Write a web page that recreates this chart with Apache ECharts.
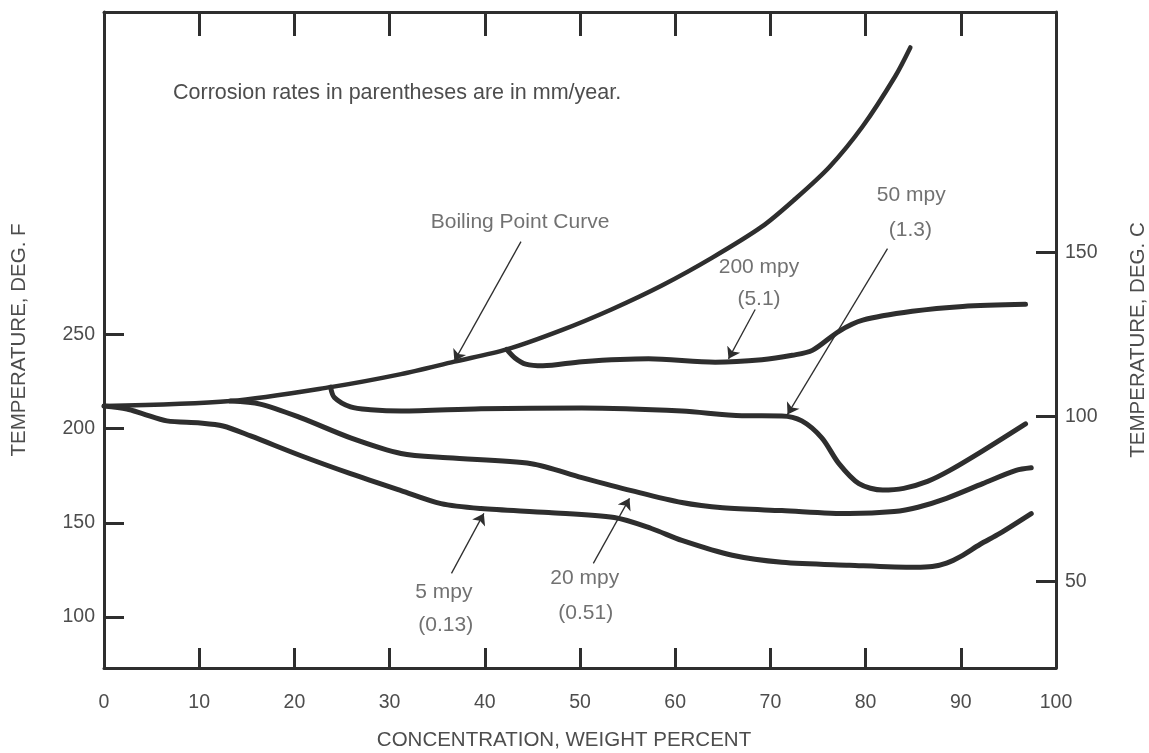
<!DOCTYPE html>
<html>
<head>
<meta charset="utf-8">
<script src="https://cdn.jsdelivr.net/npm/echarts@6/dist/echarts.min.js"></script>
<style>
html,body{margin:0;padding:0;background:#fff;}
#chart{width:1149px;height:753px;}
</style>
</head>
<body>
<div id="chart"></div>
<script>
// ---- data (concentration wt% , temperature deg F) ----
const boilingX = [0, 13.3, 23.8, 31.2, 36.8, 42.3, 48.0, 53.3, 58.6, 63.9, 69.1, 72.6, 76.2, 79.7, 83.1, 84.7];
const boilingF = [212.0, 214.6, 222.0, 228.9, 235.5, 242.0, 252.1, 263.2, 275.9, 290.7, 307.1, 321.8, 338.8, 360.4, 386.8, 402.2];

const mpy200X = [42.3, 43.2, 44.3, 46.1, 50.2, 57.2, 64.2, 69.1, 72.3, 74.4, 77.2, 79.7, 84.9, 90.2, 96.8];
const mpy200F = [242.0, 237.3, 234.2, 233.3, 235.5, 237.0, 235.2, 236.5, 238.9, 241.5, 251.6, 257.5, 262.2, 264.8, 265.9];

const mpy50X = [23.8, 24.2, 25.9, 28.0, 31.2, 39.6, 50.2, 60.7, 67.0, 71.2, 73.3, 75.4, 77.2, 79.3, 81.8, 84.0, 86.5, 88.8, 92.3, 96.8];
const mpy50F = [222.0, 216.5, 211.5, 210.0, 209.3, 210.5, 210.9, 209.3, 206.8, 206.7, 204.1, 195.1, 181.4, 170.8, 167.4, 168.3, 172.0, 177.7, 188.2, 202.5];

const mpy20X = [13.3, 16.4, 20.7, 25.9, 31.2, 36.1, 44.9, 50.2, 55.4, 60.7, 65.0, 71.2, 78.3, 83.0, 85.5, 88.5, 92.3, 95.8, 97.4];
const mpy20F = [214.6, 213.0, 205.7, 195.1, 186.8, 184.5, 181.4, 174.0, 167.1, 160.8, 158.0, 156.5, 154.9, 156.0, 158.3, 163.0, 170.8, 177.8, 179.2];

const mpy5X = [0, 2.4, 4.1, 6.6, 10.1, 12.5, 15.4, 20.7, 25.9, 31.2, 35.4, 39.6, 46.7, 53.6, 57.5, 60.7, 66.0, 71.2, 78.3, 85.2, 87.0, 88.5, 90.0, 92.0, 94.1, 97.4];
const mpy5F = [212.0, 210.4, 207.8, 204.1, 203.0, 201.4, 196.1, 185.6, 176.1, 167.1, 160.2, 157.6, 155.5, 152.8, 147.0, 140.7, 132.8, 129.1, 127.5, 126.4, 126.8, 128.6, 132.2, 138.5, 144.4, 154.9];

// ---- tick labels ----
const xTicks = [0, 10, 20, 30, 40, 50, 60, 70, 80, 90, 100];
const xInnerTicks = [10, 20, 30, 40, 50, 60, 70, 80, 90];
const fTicks = [100, 150, 200, 250];
const cTicks = [50, 100, 150];

// ---- annotation texts and arrows (data coordinates) ----
const noteText = 'Corrosion rates in parentheses are in mm/year.';
const labelNames = ['Boiling Point Curve', '200 mpy', '(5.1)', '50 mpy', '(1.3)', '5 mpy', '(0.13)', '20 mpy', '(0.51)'];
const labelX = [43.7, 68.8, 68.8, 84.8, 84.7, 35.7, 35.9, 50.5, 50.6];
const labelF = [309.7, 285.4, 268.5, 324.0, 305.5, 113.2, 95.8, 120.6, 102.1];
const arrowFrom = [[43.8, 299.2], [68.4, 263.2], [82.3, 295.5], [36.5, 123.2], [51.4, 128.5]];
const arrowTo = [[36.8, 235.8], [65.6, 237.0], [71.8, 207.5], [39.9, 155.0], [55.2, 163.0]];

const pairs = (xs, ys) => xs.map((x, i) => [x, ys[i]]);

const textColor = '#4d4d4d';
const lineColor = '#2e2e2e';
const fontFamily = '"Liberation Sans", Arial, Helvetica, sans-serif';

const curve = (name, xs, ys, w) => ({
  name, type: 'line', xAxisIndex: 0, yAxisIndex: 0,
  data: pairs(xs, ys), smooth: 0.3, showSymbol: false, symbol: 'none',
  lineStyle: { color: lineColor, width: w, cap: 'round', join: 'round' },
  silent: true, z: 3
});

const chart = echarts.init(document.getElementById('chart'), null, { renderer: 'canvas' });
chart.setOption({
  animation: false,
  backgroundColor: '#ffffff',
  textStyle: { fontFamily },
  title: {
    text: noteText, left: 168, top: 77, padding: 5,
    textStyle: { fontSize: 21.5, fontWeight: 'normal', color: textColor, fontFamily }
  },
  grid: { left: 104, right: 93, top: 12, bottom: 85, containLabel: false, outerBoundsMode: 'none' },
  xAxis: [{
    type: 'value', position: 'bottom', min: 0, max: 100, interval: 10,
    name: 'CONCENTRATION, WEIGHT PERCENT', nameLocation: 'middle', nameGap: 62,
    nameTextStyle: { fontSize: 20.5, color: textColor, fontFamily, padding: [0, 32, 0, 0] },
    axisLine: { show: true, onZero: false, lineStyle: { color: lineColor, width: 3 } },
    axisTick: { show: true, inside: true, length: 20, customValues: xInnerTicks, lineStyle: { color: lineColor, width: 3 } },
    axisLabel: { show: true, margin: 25, fontSize: 19.5, color: textColor, fontFamily, customValues: xTicks },
    splitLine: { show: false }
  }, {
    type: 'value', position: 'top', min: 0, max: 100, interval: 10,
    axisLine: { show: true, onZero: false, lineStyle: { color: lineColor, width: 3 } },
    axisTick: { show: true, inside: true, length: 24, customValues: xInnerTicks, lineStyle: { color: lineColor, width: 3 } },
    axisLabel: { show: false },
    splitLine: { show: false }
  }],
  yAxis: [{
    type: 'value', position: 'left', min: 73, max: 421,
    name: 'TEMPERATURE, DEG. F', nameLocation: 'middle', nameGap: 74,
    nameTextStyle: { fontSize: 20.5, color: textColor, fontFamily },
    axisLine: { show: true, onZero: false, lineStyle: { color: lineColor, width: 3 } },
    axisTick: { show: true, inside: true, length: 20, customValues: fTicks, lineStyle: { color: lineColor, width: 3 } },
    axisLabel: { show: true, margin: 9, fontSize: 19.5, color: textColor, fontFamily, customValues: fTicks },
    splitLine: { show: false }
  }, {
    type: 'value', position: 'right', min: 23.6, max: 223,
    name: 'TEMPERATURE, DEG. C', nameLocation: 'middle', nameGap: 72,
    nameTextStyle: { fontSize: 20.5, color: textColor, fontFamily },
    axisLine: { show: true, onZero: false, lineStyle: { color: lineColor, width: 3 } },
    axisTick: { show: true, inside: true, length: 20, customValues: cTicks, lineStyle: { color: lineColor, width: 3 } },
    axisLabel: { show: true, margin: 9, fontSize: 19.5, color: textColor, fontFamily, customValues: cTicks },
    splitLine: { show: false }
  }],
  series: [
    curve('Boiling Point Curve', boilingX, boilingF, 4.5),
    curve('200 mpy', mpy200X, mpy200F, 5),
    curve('50 mpy', mpy50X, mpy50F, 5),
    curve('20 mpy', mpy20X, mpy20F, 5),
    curve('5 mpy', mpy5X, mpy5F, 5),
    {
      name: 'arrows', type: 'lines', coordinateSystem: 'cartesian2d', xAxisIndex: 0, yAxisIndex: 0,
      data: arrowFrom.map((f, i) => ({ coords: [f, arrowTo[i]] })),
      symbol: ['none', 'arrow'], symbolSize: 11,
      lineStyle: { color: lineColor, width: 1.3, opacity: 1, curveness: 0 },
      silent: true, z: 4
    },
    {
      name: 'labels', type: 'scatter', xAxisIndex: 0, yAxisIndex: 0,
      data: labelNames.map((n, i) => ({ name: n, value: [labelX[i], labelF[i]] })),
      symbolSize: 0, itemStyle: { color: 'transparent' },
      label: { show: true, position: 'inside', formatter: p => p.name, fontSize: 21, color: textColor, fontFamily },
      silent: true, z: 5
    }
  ]
});
</script>
</body>
</html>
